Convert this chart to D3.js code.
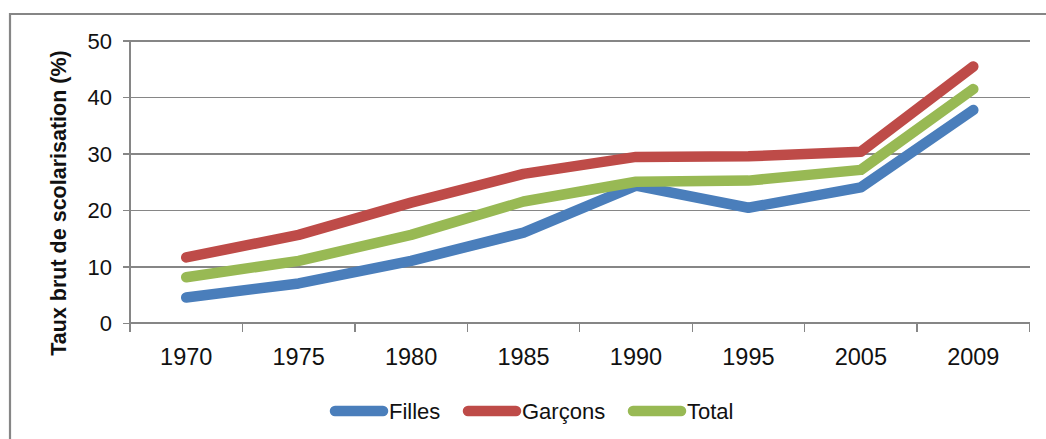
<!DOCTYPE html>
<html>
<head>
<meta charset="utf-8">
<script src="https://cdn.jsdelivr.net/npm/d3@7"></script>
<style>
  html, body { margin: 0; padding: 0; background: #fff; }
  svg { display: block; font-family: "Liberation Sans", Arial, sans-serif; }
</style>
</head>
<body>
<svg id="chart" width="1046" height="439"></svg>
<script>
// Années (axe des catégories)
const years = ["1970", "1975", "1980", "1985", "1990", "1995", "2005", "2009"];
// Taux brut de scolarisation (%)
const filles  = [4.5, 7.0, 11.0, 16.0, 24.3, 20.4, 24.0, 37.7];
const garcons = [11.6, 15.6, 21.3, 26.4, 29.4, 29.5, 30.3, 45.4];
const total   = [8.1, 11.0, 15.6, 21.5, 25.0, 25.2, 27.1, 41.4];
const yTicks  = [0, 10, 20, 30, 40, 50];
const seriesNames = ["Filles", "Garçons", "Total"];
const colors = ["#4a7ebb", "#be4b48", "#98b954"];

const series = [filles, garcons, total].map((v, i) => ({ name: seriesNames[i], values: v, color: colors[i] }));

const svg = d3.select("#chart");
const gridColor = "#868686";

// Cadre du graphique
svg.append("path")
  .attr("d", "M10,440 L10,14 L1047,14")
  .attr("fill", "none")
  .attr("stroke", gridColor)
  .attr("stroke-width", 2.2);

const plotLeft = 130, plotRight = 1029.5, plotTop = 40.5, plotBottom = 323;

const x = d3.scaleBand().domain(years).range([plotLeft, plotRight]);
const y = d3.scaleLinear().domain([0, 50]).range([plotBottom, plotTop]);

// Quadrillage horizontal et graduations de l'axe vertical
const yAxis = d3.axisLeft(y).tickValues(yTicks).tickSize(0).tickPadding(0);
const gy = svg.append("g").attr("transform", `translate(${plotLeft},0)`).call(yAxis);
gy.select(".domain").remove();
gy.selectAll(".tick line").remove();
gy.selectAll(".tick").append("line")
  .attr("x1", -7).attr("x2", 1030 - plotLeft)
  .attr("stroke", gridColor).attr("stroke-width", 1.3)
  .attr("shape-rendering", "crispEdges");
gy.selectAll(".tick text")
  .attr("x", -18)
  .attr("dy", "0.36em")
  .attr("font-size", 22)
  .attr("font-family", "Liberation Sans, Arial, sans-serif")
  .attr("fill", "#111");

// Axe vertical
svg.append("line")
  .attr("x1", plotLeft).attr("x2", plotLeft).attr("y1", plotTop).attr("y2", plotBottom)
  .attr("stroke", gridColor).attr("stroke-width", 1.3)
  .attr("shape-rendering", "crispEdges");

// Axe horizontal avec graduations entre les catégories
const gx = svg.append("g").attr("transform", `translate(0,${plotBottom})`);
gx.append("line")
  .attr("x1", plotLeft).attr("x2", plotRight)
  .attr("stroke", gridColor).attr("stroke-width", 1.3)
  .attr("shape-rendering", "crispEdges");
const boundaries = years.map(d => x(d)).concat([x(years[years.length - 1]) + x.bandwidth()]);
gx.selectAll("line.tk").data(boundaries).join("line")
  .attr("class", "tk")
  .attr("x1", d => d).attr("x2", d => d)
  .attr("y1", 0).attr("y2", 9)
  .attr("stroke", gridColor).attr("stroke-width", 1.3)
  .attr("shape-rendering", "crispEdges");
gx.selectAll("text").data(years).join("text")
  .attr("x", d => x(d) + x.bandwidth() / 2)
  .attr("y", 42)
  .attr("text-anchor", "middle")
  .attr("font-size", 23.5)
  .attr("fill", "#111")
  .text(d => d);

// Titre de l'axe vertical
svg.append("text")
  .attr("transform", "translate(66,203) rotate(-90)")
  .attr("text-anchor", "middle")
  .attr("font-size", 21.5)
  .attr("font-weight", "bold")
  .attr("fill", "#111")
  .text("Taux brut de scolarisation (%)");

// Courbes
const line = d3.line()
  .x((d, i) => x(years[i]) + x.bandwidth() / 2)
  .y(d => y(d));

svg.selectAll("path.serie").data(series).join("path")
  .attr("class", "serie")
  .attr("d", d => line(d.values))
  .attr("fill", "none")
  .attr("stroke", d => d.color)
  .attr("stroke-width", 10.5)
  .attr("stroke-linejoin", "round")
  .attr("stroke-linecap", "round");

// Légende
const legendX = [335, 468, 633];
const lg = svg.append("g");
series.forEach((s, i) => {
  const g = lg.append("g").attr("transform", `translate(${legendX[i]},411)`);
  g.append("line")
    .attr("x1", 0).attr("x2", 48)
    .attr("stroke", s.color).attr("stroke-width", 10.5)
    .attr("stroke-linecap", "round");
  g.append("text")
    .attr("x", 54).attr("y", 8)
    .attr("font-size", 22)
    .attr("fill", "#111")
    .text(s.name);
});
</script>
</body>
</html>
